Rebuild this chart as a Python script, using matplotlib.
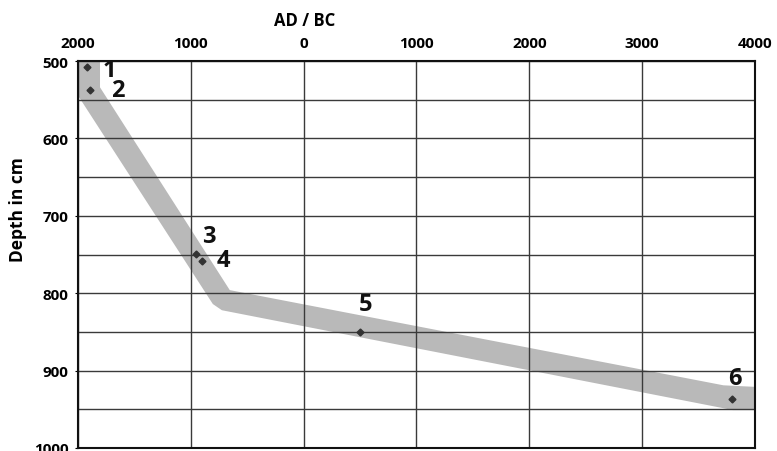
import matplotlib.pyplot as plt
from matplotlib.patches import Polygon
import numpy as np

# Dated samples: calendar age (negative = AD, positive = BC) and depth in cm
sample_ids = ['1', '2', '3', '4', '5', '6']
sample_age = [-1920, -1890, -950, -900, 500, 3800]
sample_depth = [508, 538, 749, 759, 850, 937]

# Age-depth envelope (grey band)
band_age = [-2000, -1805, -1805, -655, 3720, 4000, 4000, 3805, -725, -805, -1985, -2000]
band_depth = [500, 500, 534, 796, 919, 921, 951, 951, 822, 814, 548, 545]

x_ticks = [-2000, -1000, 0, 1000, 2000, 3000, 4000]
x_tick_labels = ['2000', '1000', '0', '1000', '2000', '3000', '4000']
y_ticks = [500, 600, 700, 800, 900, 1000]

plt.rcParams['font.family'] = ['Open Sans', 'DejaVu Sans']

fig = plt.figure(figsize=(7.77, 4.52), dpi=100)
ax = fig.add_axes([78 / 777, 1 - 449 / 452, 677 / 777, 387 / 452])

band = Polygon(np.column_stack([band_age, band_depth]), closed=True,
               facecolor='#b9b9b9', edgecolor='none', zorder=1)
ax.add_patch(band)

ax.set_xlim(-2000, 4000)
ax.set_ylim(1000, 500)

# grid
for x in x_ticks:
    ax.axvline(x, color='#3a3a3a', linewidth=1.0, zorder=2)
for y in np.arange(500, 1001, 50):
    ax.axhline(y, color='#3a3a3a', linewidth=1.0, zorder=2)

ax.plot(sample_age, sample_depth, 'D', color='#333333', markersize=3.5, zorder=4)

offsets = [(16, -2), (20, 0), (9, 13), (15, 1), (4, 20), (2, 15)]
for sid, a, d, off in zip(sample_ids, sample_age, sample_depth, offsets):
    ax.annotate(sid, xy=(a, d), xytext=off, textcoords='offset points',
                ha='center', va='center', fontsize=17, fontweight='bold',
                color='#111111', zorder=5)

ax.xaxis.tick_top()
ax.set_xticks(x_ticks)
ax.set_xticklabels(x_tick_labels, fontsize=11, fontweight='bold')
ax.set_yticks(y_ticks)
ax.set_yticklabels([str(v) for v in y_ticks], fontsize=11, fontweight='bold')
ax.tick_params(axis='x', length=0, pad=8)
ax.tick_params(axis='y', length=2, pad=5)

for s in ax.spines.values():
    s.set_linewidth(1.5)
    s.set_color('#111111')
    s.set_zorder(6)

fig.text(305 / 777, 1 - 21 / 452, 'AD / BC', ha='center', va='center',
         fontsize=12, fontweight='bold')
fig.text(18 / 777, 1 - 210 / 452, 'Depth in cm', ha='center', va='center',
         rotation=90, fontsize=12.5, fontweight='bold')

fig.savefig('out.png', dpi=100)
